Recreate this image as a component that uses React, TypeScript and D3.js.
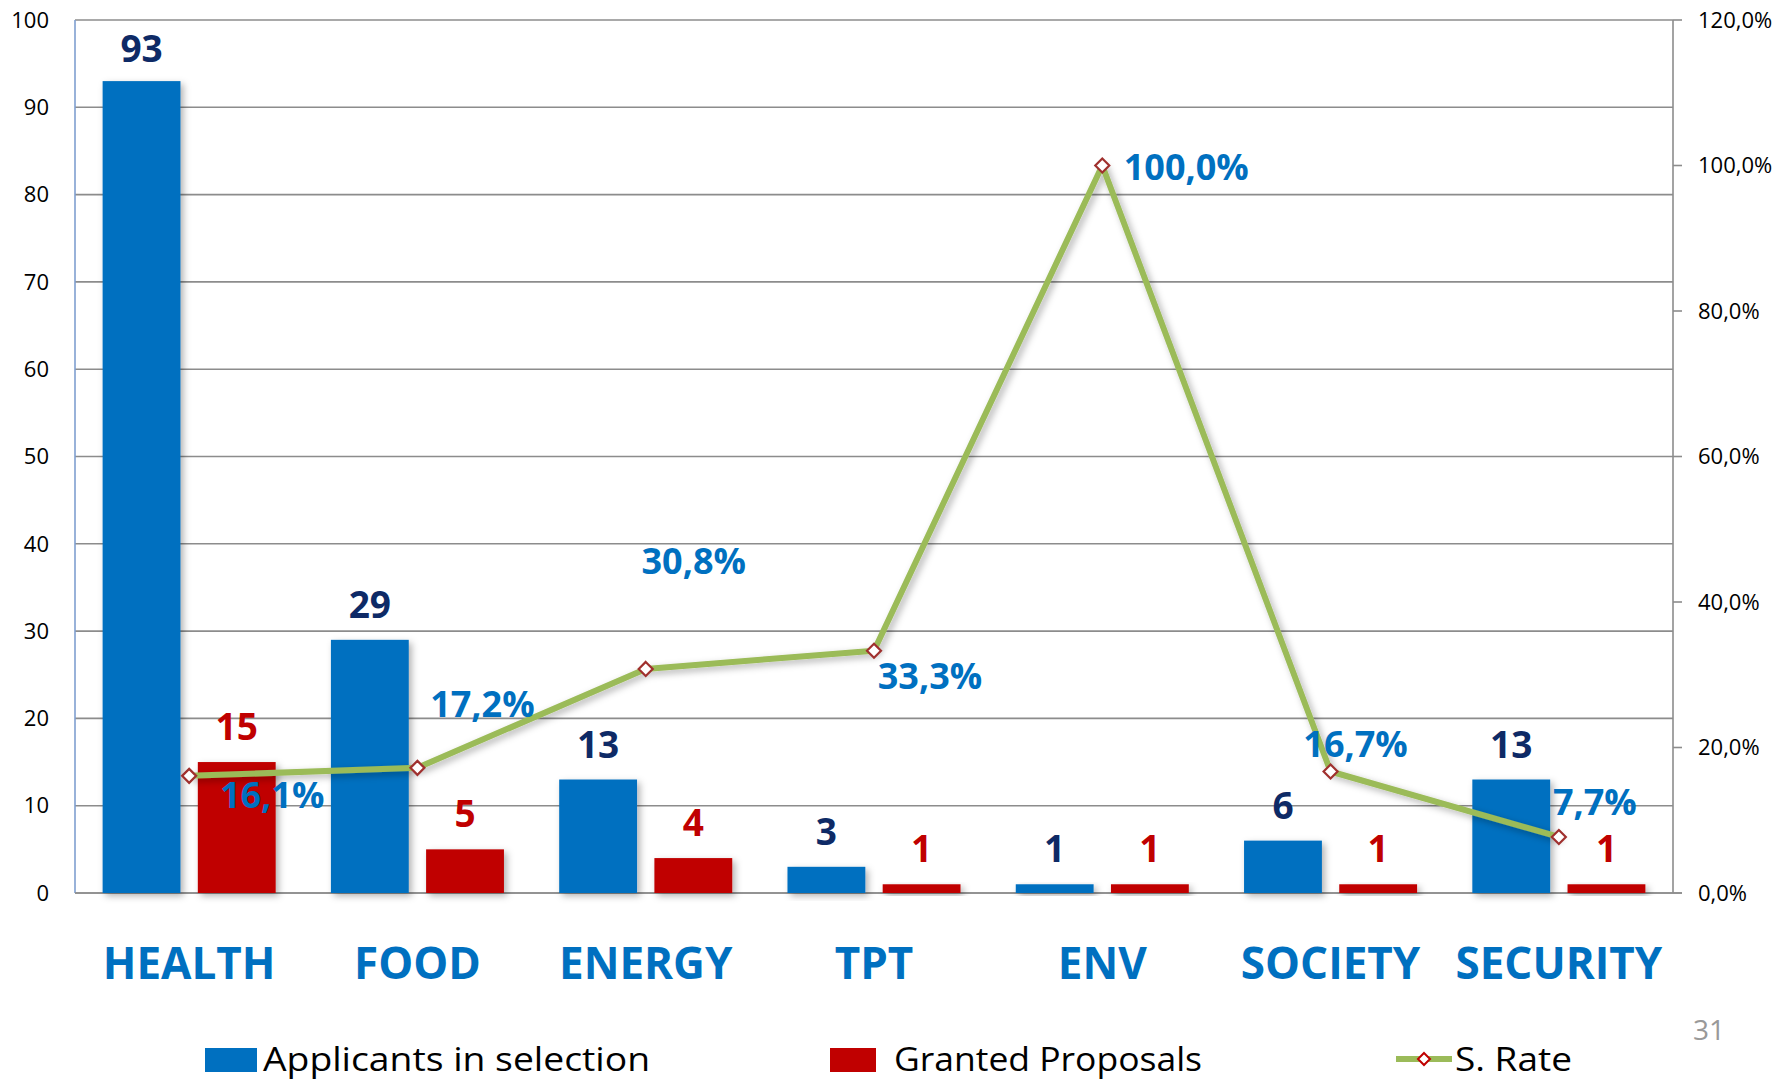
import React from "react";
import * as d3 from "d3";

const categories = ["HEALTH", "FOOD", "ENERGY", "TPT", "ENV", "SOCIETY", "SECURITY"];
const applicants = [93, 29, 13, 3, 1, 6, 13];
const granted = [15, 5, 4, 1, 1, 1, 1];
const successRate = [16.1, 17.2, 30.8, 33.3, 100.0, 16.7, 7.7];
const leftTicks = [0, 10, 20, 30, 40, 50, 60, 70, 80, 90, 100];
const rightTicks = [0, 20, 40, 60, 80, 100, 120];
const seriesNames = ["Applicants in selection", "Granted Proposals", "S. Rate"];

// label offsets (layout only) for the percentage labels relative to their markers
const pctLabelOffsets: [number, number][] = [
  [83, 32], [65, -51], [48, -95], [56, 38], [84, 14], [25, -15], [36, -22],
];

const W = 1791, H = 1080;
const M = { left: 75, right: 1673, top: 20, bottom: 893 };

const BLUE = "#0070C0";
const RED = "#C00000";
const NAVY = "#0E2A66";
const GREEN = "#9BBB59";
const FONT = "'Open Sans', 'DejaVu Sans', sans-serif";

const fmtPct = (v: number) => v.toFixed(1).replace(".", ",") + "%";

export default function App() {
  const x = d3.scaleBand<string>().domain(categories).range([M.left, M.right]).paddingInner(0).paddingOuter(0);
  const yL = d3.scaleLinear().domain([0, 100]).range([M.bottom, M.top]);
  const yR = d3.scaleLinear().domain([0, 120]).range([M.bottom, M.top]);
  const bw = x.bandwidth();
  const barW = bw * 0.341;
  const gap = bw * 0.076;
  const padL = (bw - 2 * barW - gap) / 2;

  const pts: [number, number][] = successRate.map((v, i) => [x(categories[i])! + bw / 2, yR(v)]);
  const line = d3.line()(pts) || "";

  const diamond = (cx: number, cy: number, r = 7) =>
    `M${cx},${cy - r}L${cx + r},${cy}L${cx},${cy + r}L${cx - r},${cy}Z`;

  return (
    <svg width={W} height={H} style={{ position: "absolute", left: 0, top: 0, background: "#fff" }} fontFamily={FONT}>
      <defs>
        <filter id="sh" x="-20%" y="-20%" width="150%" height="150%">
          <feDropShadow dx="3" dy="3" stdDeviation="3.5" floodColor="#000" floodOpacity="0.3" />
        </filter>
      </defs>
      <rect width={W} height={H} fill="#fff" />
      {/* gridlines */}
      {leftTicks.map((t) => (
        <line key={"g" + t} x1={M.left} x2={M.right} y1={yL(t)} y2={yL(t)} stroke="#8c8c8c" strokeWidth={1.6} />
      ))}
      {/* left axis */}
      <line x1={M.left} x2={M.left} y1={M.top} y2={M.bottom} stroke="#7F9FD0" strokeWidth={1.6} />
      {leftTicks.map((t) => (
        <text key={"l" + t} x={49} y={yL(t)} dy="0.35em" textAnchor="end" fontSize={22} fill="#000">{t}</text>
      ))}
      {/* right axis */}
      <line x1={M.right} x2={M.right} y1={M.top} y2={M.bottom} stroke="#8c8c8c" strokeWidth={1.6} />
      {rightTicks.map((t) => (
        <g key={"r" + t}>
          <line x1={M.right} x2={M.right + 9} y1={yR(t)} y2={yR(t)} stroke="#8c8c8c" strokeWidth={1.6} />
          <text x={1698} y={yR(t)} dy="0.35em" fontSize={22} fill="#000">{fmtPct(t)}</text>
        </g>
      ))}
      <line x1={M.left} x2={M.right + 9} y1={M.bottom} y2={M.bottom} stroke="#8c8c8c" strokeWidth={1.6} />

      {/* bars */}
      {categories.map((c, i) => {
        const x0 = x(c)! + padL;
        const x1 = x0 + barW + gap;
        return (
          <g key={"b" + c}>
            <rect x={x0} y={yL(applicants[i])} width={barW} height={M.bottom - yL(applicants[i])} fill={BLUE} filter="url(#sh)" />
            <rect x={x1} y={yL(granted[i])} width={barW} height={M.bottom - yL(granted[i])} fill={RED} filter="url(#sh)" />
          </g>
        );
      })}
      {/* bar labels */}
      {categories.map((c, i) => {
        const x0 = x(c)! + padL;
        const x1 = x0 + barW + gap;
        const ya = Math.max(yL(applicants[i]) - 22, 62);
        return (
          <g key={"bl" + c} fontWeight={700} fontSize={37} textAnchor="middle">
            <text x={x0 + barW / 2} y={ya} fill={NAVY}>{applicants[i]}</text>
            <text x={x1 + barW / 2} y={yL(granted[i]) - 22} fill={RED}>{granted[i]}</text>
          </g>
        );
      })}
      {/* line */}
      <path d={line} fill="none" stroke={GREEN} strokeWidth={6} strokeLinejoin="round" filter="url(#sh)" />
      {pts.map(([px, py], i) => (
        <path key={"m" + i} d={diamond(px, py)} fill="#fff" stroke="#A0302E" strokeWidth={2.2} />
      ))}
      {pts.map(([px, py], i) => (
        <text key={"pl" + i} x={px + pctLabelOffsets[i][0]} y={py + pctLabelOffsets[i][1]} textAnchor="middle"
          fontWeight={700} fontSize={36} fill={BLUE}>{fmtPct(successRate[i])}</text>
      ))}
      {/* category labels */}
      {categories.map((c) => (
        <text key={"c" + c} x={x(c)! + bw / 2} y={979} textAnchor="middle" fontWeight={700} fontSize={44} fill={BLUE}>{c}</text>
      ))}
      {/* legend */}
      <rect x={205} y={1048} width={52} height={24} fill={BLUE} />
      <text x={263} y={1071} fontSize={33} fill="#000" textLength={387} lengthAdjust="spacingAndGlyphs">{seriesNames[0]}</text>
      <rect x={830} y={1048} width={46} height={24} fill={RED} />
      <text x={894} y={1071} fontSize={33} fill="#000" textLength={308} lengthAdjust="spacingAndGlyphs">{seriesNames[1]}</text>
      <line x1={1396} x2={1452} y1={1059} y2={1059} stroke={GREEN} strokeWidth={6} />
      <path d={diamond(1424, 1059, 6)} fill="#fff" stroke="#C00000" strokeWidth={2} />
      <text x={1455} y={1071} fontSize={33} fill="#000" textLength={117} lengthAdjust="spacingAndGlyphs">{seriesNames[2]}</text>
      {/* page number */}
      <text x={1693} y={1040} fontSize={28} fill="#999">31</text>
    </svg>
  );
}
